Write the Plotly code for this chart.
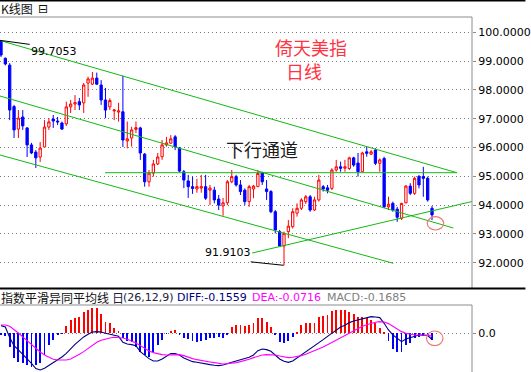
import plotly.graph_objects as go

# ---------------- data ----------------
idx = list(range(1, 101))
open_ = [99.70, 99.10, 98.86, 97.42, 96.64, 97.06, 96.68, 96.09, 95.84, 95.67,
         96.02, 96.71, 96.99, 96.92, 96.85, 96.82, 97.41, 97.51, 97.59, 97.55,
         98.24, 98.20, 98.41, 98.17, 97.65, 97.41, 97.27, 97.23, 97.24, 96.23,
         96.33, 96.63, 96.68, 95.77, 94.81, 95.11, 95.43, 95.68, 96.09, 96.15,
         96.37, 95.98, 95.16, 94.84, 94.64, 94.56, 94.59, 94.64, 94.52, 94.52,
         94.21, 93.97, 94.08, 94.81, 94.99, 94.70, 94.52, 94.12, 94.56, 94.64,
         95.12, 94.56, 94.47, 93.77, 93.08, 92.58, 93.08, 93.25, 93.72, 93.89,
         94.12, 94.29, 93.83, 94.18, 94.64, 94.60, 94.58, 95.22, 95.33, 95.28,
         95.27, 95.64, 95.46, 95.16, 95.85, 95.77, 95.91, 95.45, 95.62, 93.94,
         94.06, 93.86, 93.54, 94.08, 94.66, 94.41, 94.99, 94.99, 94.93, 93.89]
high = [99.7053, 99.12, 98.93, 97.48, 97.30, 97.30, 96.71, 96.16, 95.91, 96.19,
        96.95, 97.02, 97.13, 97.06, 96.90, 97.59, 97.65, 97.82, 97.72, 98.24,
        98.46, 98.62, 98.60, 98.34, 98.07, 97.71, 97.34, 97.55, 98.49, 96.90,
        96.72, 96.90, 96.72, 95.81, 95.22, 95.57, 95.81, 96.26, 96.37, 96.43,
        96.43, 96.02, 95.22, 95.05, 94.99, 94.91, 95.05, 95.05, 94.70, 94.64,
        94.35, 94.25, 94.87, 95.22, 95.05, 94.87, 94.58, 94.70, 94.70, 95.22,
        95.16, 94.87, 94.52, 93.83, 93.14, 93.08, 93.48, 93.89, 94.06, 94.24,
        94.35, 94.35, 94.29, 95.05, 94.70, 94.70, 95.28, 95.57, 95.51, 95.57,
        95.68, 95.68, 95.81, 95.85, 96.02, 95.91, 95.97, 95.62, 95.68, 94.29,
        94.12, 93.94, 94.08, 94.70, 94.76, 94.99, 95.05, 95.33, 94.99, 93.97]
low = [99.14, 98.85, 96.95, 96.33, 96.33, 96.61, 95.67, 95.77, 95.29, 95.50,
       96.02, 96.61, 96.68, 96.78, 96.61, 96.75, 97.20, 97.30, 97.30, 97.20,
       97.76, 98.17, 98.17, 97.48, 97.02, 97.30, 96.95, 96.90, 96.02, 95.97,
       96.03, 96.50, 95.57, 94.64, 94.64, 94.99, 95.39, 95.57, 96.03, 96.12,
       95.91, 95.15, 94.59, 94.25, 94.39, 94.43, 94.43, 94.18, 94.00, 94.06,
       93.83, 93.63, 94.00, 94.76, 94.64, 94.35, 94.00, 93.94, 94.24, 94.64,
       94.70, 94.18, 93.72, 93.02, 92.56, 91.9103, 92.85, 93.19, 93.60, 93.83,
       94.04, 93.77, 93.80, 94.12, 94.47, 94.41, 94.52, 95.16, 95.16, 95.16,
       95.22, 95.33, 94.99, 95.16, 95.68, 95.74, 95.39, 95.16, 93.89, 93.83,
       93.77, 93.42, 93.48, 94.06, 94.35, 94.35, 94.58, 94.29, 94.12, 93.48]
close = [99.21, 98.90, 97.30, 96.61, 97.02, 96.75, 96.09, 95.81, 95.64, 95.98,
         96.71, 96.89, 96.92, 96.89, 96.64, 97.41, 97.51, 97.56, 97.48, 98.17,
         98.38, 98.41, 98.20, 97.65, 97.30, 97.63, 97.30, 97.27, 96.26, 96.30,
         96.61, 96.69, 95.81, 94.81, 95.11, 95.43, 95.67, 96.09, 96.16, 96.30,
         96.02, 95.18, 94.87, 94.64, 94.58, 94.64, 94.64, 94.24, 94.59, 94.18,
         94.00, 94.08, 94.81, 94.99, 94.70, 94.47, 94.12, 94.64, 94.66, 95.10,
         94.81, 94.47, 93.77, 93.14, 92.58, 93.02, 93.27, 93.77, 93.89, 94.18,
         94.29, 93.83, 94.18, 94.87, 94.56, 94.52, 95.22, 95.33, 95.28, 95.33,
         95.64, 95.39, 95.16, 95.81, 95.80, 95.85, 95.45, 95.57, 93.94, 94.03,
         93.83, 93.58, 94.06, 94.66, 94.41, 94.93, 94.70, 94.93, 94.18, 93.66]

macd = [-0.038, -0.058, -0.335, -0.630, -0.713, -0.756, -0.799, -0.839, -0.799, -0.756,
        -0.547, -0.295, -0.169, -0.043, -0.008, 0.194, 0.335, 0.396, 0.421, 0.547,
        0.587, 0.630, 0.630, 0.479, 0.295, 0.252, 0.144, 0.058, -0.108, -0.194,
        -0.227, -0.335, -0.461, -0.547, -0.587, -0.461, -0.295, -0.169, -0.008, 0.058,
        0.083, -0.043, -0.108, -0.144, -0.194, -0.209, -0.194, -0.169, -0.126, -0.108,
        -0.083, -0.108, -0.043, 0.169, 0.209, 0.209, 0.184, 0.209, 0.252, 0.378,
        0.378, 0.295, 0.169, -0.043, -0.227, -0.252, -0.194, -0.083, 0.025, 0.209,
        0.252, 0.252, 0.252, 0.421, 0.436, 0.461, 0.562, 0.587, 0.587, 0.587,
        0.529, 0.479, 0.421, 0.421, 0.378, 0.335, 0.252, 0.126, 0.008, -0.194,
        -0.396, -0.461, -0.461, -0.295, -0.252, -0.108, -0.083, -0.068, -0.058, -0.1685]
diff = [0.193, 0.160, -0.109, -0.311, -0.420, -0.529, -0.647, -0.756, -0.890, -0.924,
        -0.882, -0.815, -0.731, -0.672, -0.596, -0.504, -0.386, -0.277, -0.185, -0.092,
        -0.025, 0.034, 0.042, 0.034, 0.000, -0.025, -0.042, -0.076, -0.227, -0.269,
        -0.286, -0.311, -0.462, -0.546, -0.638, -0.697, -0.697, -0.647, -0.571, -0.512,
        -0.512, -0.546, -0.622, -0.672, -0.714, -0.731, -0.756, -0.764, -0.790, -0.806,
        -0.815, -0.798, -0.756, -0.731, -0.697, -0.672, -0.638, -0.605, -0.546, -0.437,
        -0.395, -0.412, -0.454, -0.546, -0.647, -0.706, -0.731, -0.697, -0.622, -0.546,
        -0.470, -0.403, -0.328, -0.235, -0.160, -0.076, 0.000, 0.076, 0.160, 0.202,
        0.269, 0.311, 0.336, 0.370, 0.403, 0.420, 0.412, 0.395, 0.252, 0.084,
        -0.042, -0.126, -0.210, -0.143, -0.109, -0.067, -0.042, -0.042, -0.059, -0.1559]
dea = [0.210, 0.210, 0.176, 0.101, 0.008, -0.092, -0.185, -0.277, -0.386, -0.470,
       -0.546, -0.605, -0.655, -0.672, -0.672, -0.672, -0.647, -0.596, -0.529, -0.462,
       -0.378, -0.294, -0.227, -0.176, -0.143, -0.118, -0.101, -0.101, -0.118, -0.151,
       -0.193, -0.244, -0.311, -0.378, -0.445, -0.487, -0.521, -0.538, -0.546, -0.538,
       -0.529, -0.538, -0.563, -0.605, -0.638, -0.664, -0.689, -0.706, -0.722, -0.739,
       -0.756, -0.773, -0.764, -0.756, -0.739, -0.714, -0.689, -0.655, -0.613, -0.571,
       -0.546, -0.538, -0.538, -0.546, -0.571, -0.596, -0.613, -0.605, -0.588, -0.563,
       -0.529, -0.487, -0.445, -0.395, -0.344, -0.286, -0.227, -0.160, -0.101, -0.042,
       0.017, 0.076, 0.126, 0.176, 0.218, 0.252, 0.277, 0.294, 0.286, 0.244,
       0.176, 0.109, 0.042, 0.000, -0.025, -0.042, -0.042, -0.042, -0.050, -0.0716]

price_ticks = [92, 93, 94, 95, 96, 97, 98, 99, 100]
macd_ticks = [0]
macd_params = "(26,12,9)"

# drawn trend lines (data units: candle index, price)
upper_x, upper_y = [0.77, 105.7], [99.715, 95.125]
mid_x, mid_y = [0.77, 104.9], [97.788, 93.205]
lower_x, lower_y = [0.77, 91.1], [95.74, 91.98]
support_x, support_y = [58.7, 109.2], [92.337, 94.125]
flat_x, flat_y = [24.9, 105.7], [95.125, 95.125]
hi_ptr_x, hi_ptr_y = [0.77, 7.6], [99.72, 99.58]
lo_ptr_x, lo_ptr_y = [58.35, 65.93], [92.03, 91.91]
ring_price = [98.9, 102.67, 93.135, 93.597]
ring_macd = [98.73, 102.52, -0.312, 0.058]

# ---------------- layout helpers (pixels) ----------------
W, H = 531, 372
PW = 477          # plot width in px
PH = H - 17       # paper height in px
def px(x):
    return x / PW
def py(y):
    return (H - y) / PH

GREEN = "#14B814"
RED = "#FF0000"
BLUE = "#0000FF"
GRAY = "#8C8C8C"
XR = [0.773, 109.18]

fig = go.Figure()

fig.add_trace(go.Candlestick(
    x=idx, open=open_, high=high, low=low, close=close,
    increasing=dict(line=dict(color=RED, width=1), fillcolor="white"),
    decreasing=dict(line=dict(color=BLUE, width=1), fillcolor=BLUE),
    whiskerwidth=0, xaxis="x", yaxis="y", showlegend=False, hoverinfo="skip"))

for lx, ly in [(upper_x, upper_y), (mid_x, mid_y), (lower_x, lower_y),
               (support_x, support_y), (flat_x, flat_y)]:
    fig.add_trace(go.Scatter(x=lx, y=ly, mode="lines", line=dict(color=GREEN, width=1),
                             xaxis="x", yaxis="y", showlegend=False, hoverinfo="skip"))
for lx, ly in [(hi_ptr_x, hi_ptr_y), (lo_ptr_x, lo_ptr_y)]:
    fig.add_trace(go.Scatter(x=lx, y=ly, mode="lines", line=dict(color="black", width=1),
                             xaxis="x", yaxis="y", showlegend=False, hoverinfo="skip"))

fig.add_trace(go.Bar(x=idx, y=macd, width=0.2,
                     marker=dict(color=[RED if v > 0 else BLUE for v in macd], line=dict(width=0)),
                     xaxis="x2", yaxis="y2", showlegend=False, hoverinfo="skip"))
fig.add_trace(go.Scatter(x=idx, y=diff, mode="lines", line=dict(color="#000080", width=1.1),
                         xaxis="x2", yaxis="y2", showlegend=False, hoverinfo="skip"))
fig.add_trace(go.Scatter(x=idx, y=dea, mode="lines", line=dict(color="#FF00FF", width=1.1),
                         xaxis="x2", yaxis="y2", showlegend=False, hoverinfo="skip"))

shapes = [
    dict(type="line", xref="paper", yref="paper", x0=0, x1=W / PW, y0=py(0.7), y1=py(0.7),
         line=dict(color="black", width=1.5)),
    dict(type="line", xref="paper", yref="paper", x0=0, x1=1, y0=py(17), y1=py(17),
         line=dict(color=GRAY, width=1)),
    dict(type="line", xref="paper", yref="paper", x0=1, x1=1, y0=py(17), y1=py(288),
         line=dict(color=GRAY, width=1)),
    dict(type="line", xref="paper", yref="paper", x0=0, x1=W / PW, y0=py(288.5), y1=py(288.5),
         line=dict(color="black", width=2)),
    dict(type="line", xref="paper", yref="paper", x0=0, x1=1, y0=py(305), y1=py(305),
         line=dict(color=GRAY, width=1)),
    dict(type="line", xref="paper", yref="paper", x0=1, x1=1, y0=py(305), y1=py(372),
         line=dict(color=GRAY, width=1)),
    dict(type="circle", xref="x", yref="y", x0=ring_price[0], x1=ring_price[1],
         y0=ring_price[2], y1=ring_price[3], line=dict(color="#F07878", width=1.2)),
    dict(type="circle", xref="x2", yref="y2", x0=ring_macd[0], x1=ring_macd[1],
         y0=ring_macd[2], y1=ring_macd[3], line=dict(color="#F07878", width=1.2)),
]

CJK = "Noto Sans CJK SC"
LAT = "DejaVu Sans"
def ann(text, x, y, size, color, family, xanchor="left"):
    return dict(text=text, x=px(x), y=py(y), xref="paper", yref="paper",
                xanchor=xanchor, yanchor="middle", showarrow=False,
                font=dict(size=size, color=color, family=family))

annotations = [
    ann("K线图", -1, 8.5, 12, "#111111", CJK),
    ann("⊟", 36, 8.5, 12, "#111111", LAT),
    ann(f"{high[0]:.4f}", 29.5, 52, 11, "black", LAT),
    ann(f"{low[65]:.4f}", 255.5, 252, 11, "black", LAT, xanchor="right"),
    ann("下行通道", 265, 149, 18, "#1a1a1a", CJK, xanchor="center"),
    ann("倚天美指", 314, 47, 18, "#FF3344", CJK, xanchor="center"),
    ann("日线", 307.5, 71, 18, "#FF3344", CJK, xanchor="center"),
    ann("指数平滑异同平均线", -1, 297.5, 12, "#111111", CJK),
    ann("日", 111, 297.5, 12, "#202040", CJK),
    ann(macd_params, 122, 297.5, 11, "#202040", LAT),
    ann(f"DIFF:{diff[-1]:.4f}", 176.5, 297.5, 11, "#000080", LAT),
    ann(f"DEA:{dea[-1]:.4f}", 253, 297.5, 11, "#FF00FF", LAT),
    ann(f"MACD:{macd[-1]:.4f}", 328, 297.5, 11, "#808080", LAT),
]

axis_font = dict(family=LAT, size=11, color="black")
fig.update_layout(
    width=W, height=H,
    margin=dict(l=0, r=W - PW, t=17, b=0, pad=0),
    paper_bgcolor="white", plot_bgcolor="white",
    shapes=shapes, annotations=annotations,
    bargap=0, boxgap=0.25, hovermode=False,
    xaxis=dict(domain=[0, 1], range=XR, visible=False, anchor="y",
               rangeslider=dict(visible=False), fixedrange=True),
    yaxis=dict(domain=[py(288), 1], range=[91.122, 100.531], side="right",
               tickvals=price_ticks, tickformat=".4f", tickfont=axis_font,
               showgrid=True, gridcolor="#7a7a7a", griddash="1px,3px", gridwidth=1,
               ticks="outside", ticklen=3, tickcolor=GRAY, zeroline=False, showline=False),
    xaxis2=dict(domain=[0, 1], range=XR, visible=False, anchor="y2", fixedrange=True),
    yaxis2=dict(domain=[0, py(305)], range=[-0.975, 0.713], side="right", anchor="x2",
                tickvals=macd_ticks, ticktext=["0.0"], tickfont=axis_font,
                showgrid=True, gridcolor="#7a7a7a", griddash="1px,3px", gridwidth=1,
                ticks="outside", ticklen=3, tickcolor=GRAY, zeroline=False, showline=False),
)

fig.write_html("out.html", config={"displayModeBar": False},
               post_script="document.body.style.margin='0';")
